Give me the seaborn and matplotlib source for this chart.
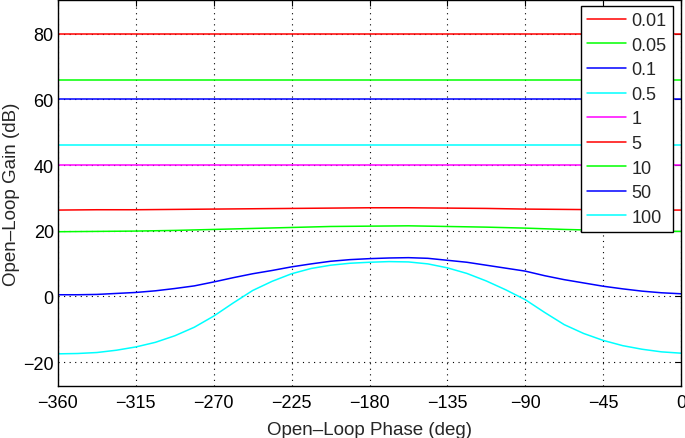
import matplotlib
matplotlib.use("Agg")
import matplotlib.pyplot as plt
import seaborn as sns
import pandas as pd

# ---------------- data ----------------
labels = ["0.01", "0.05", "0.1", "0.5", "1", "5", "10", "50", "100"]
colors = ["#ff0000", "#00ff00", "#0000ff", "#00ffff", "#ff00ff",
          "#ff0000", "#00ff00", "#0000ff", "#00ffff"]

phase_flat = [-360, 0]
gain_001 = [80, 80]
gain_005 = [66, 66]
gain_01 = [60, 60]
gain_05 = [46, 46]
gain_1 = [40, 40]

phase_coarse = [-360, -337.5, -315, -292.5, -270, -247.5, -225, -202.5, -180,
                -157.5, -135, -112.5, -90, -67.5, -45, -22.5, 0]
gain_5 = [26.3, 26.4, 26.4, 26.5, 26.6, 26.7, 26.8, 26.9, 27.0,
          27.0, 26.9, 26.8, 26.6, 26.5, 26.4, 26.3, 26.3]
gain_10 = [19.7, 19.8, 19.9, 20.1, 20.4, 20.7, 21.0, 21.3, 21.4,
           21.5, 21.3, 21.1, 20.8, 20.4, 20.1, 19.9, 19.8]

phase_fine = [-360, -348.75, -337.5, -326.25, -315, -303.75, -292.5, -281.25,
              -270, -258.75, -247.5, -236.25, -225, -213.75, -202.5, -191.25,
              -180, -168.75, -157.5, -146.25, -135, -123.75, -112.5, -101.25,
              -90, -78.75, -67.5, -56.25, -45, -33.75, -22.5, -11.25, 0]
gain_50 = [0.5, 0.5, 0.6, 0.9, 1.2, 1.7, 2.4, 3.2,
           4.4, 5.7, 6.9, 7.9, 9.0, 9.9, 10.7, 11.2,
           11.5, 11.7, 11.8, 11.6, 11.0, 10.4, 9.5, 8.6,
           7.7, 6.3, 5.1, 4.1, 3.1, 2.3, 1.6, 1.1, 0.8]
gain_100 = [-17.5, -17.4, -17.1, -16.4, -15.4, -14.0, -12.0, -9.4,
            -6.0, -2.0, 1.8, 4.6, 6.9, 8.5, 9.5, 10.1,
            10.4, 10.6, 10.5, 9.9, 8.7, 7.0, 4.7, 2.0,
            -1.0, -4.9, -8.6, -11.3, -13.4, -15.0, -16.1, -16.9, -17.3]

x_ticks = [-360, -315, -270, -225, -180, -135, -90, -45, 0]
y_ticks = [-20, 0, 20, 40, 60, 80]

# ---------------- build long table ----------------
series = [
    (phase_flat, gain_001), (phase_flat, gain_005), (phase_flat, gain_01),
    (phase_flat, gain_05), (phase_flat, gain_1), (phase_coarse, gain_5),
    (phase_coarse, gain_10), (phase_fine, gain_50), (phase_fine, gain_100),
]
rows = []
for lab, (ph, g) in zip(labels, series):
    for p, v in zip(ph, g):
        rows.append({"phase": p, "gain": v, "K": lab})
df = pd.DataFrame(rows)

# ---------------- style ----------------
sns.set_style("white")
plt.rcParams["font.family"] = ["Liberation Sans", "DejaVu Sans"]
plt.rcParams["axes.unicode_minus"] = True
plt.rcParams["lines.solid_joinstyle"] = "round"

fig = plt.figure(figsize=(6.85, 4.39), dpi=100)
ax = fig.add_axes([58 / 685, 1 - 387 / 439, 623 / 685, 386 / 439])

sns.lineplot(data=df, x="phase", y="gain", hue="K", hue_order=labels,
             palette=dict(zip(labels, colors)), sort=False, estimator=None,
             linewidth=1.1, ax=ax)

ax.set_xlim(-360, 0)
ax.set_ylim(-27.3, 90.3)
ax.set_xticks(x_ticks)
ax.set_yticks(y_ticks)
ax.grid(True, color="black", linestyle=(0, (1, 4)), linewidth=0.8)
ax.set_axisbelow(True)
for s in ax.spines.values():
    s.set_color("black")
    s.set_linewidth(1.0)
ax.tick_params(direction="in", length=4, width=0.8, colors="black",
               labelsize=13, top=True, right=True)
ax.tick_params(axis="x", pad=6)
ax.tick_params(axis="y", pad=3)
ax.set_xlabel("Open–Loop Phase (deg)", fontsize=13.5, labelpad=7)
ax.set_ylabel("Open–Loop Gain (dB)", fontsize=13.5, labelpad=2)

leg = ax.legend(loc="upper right", bbox_to_anchor=(0.9867, 0.985),
                fontsize=13, frameon=True, fancybox=False, framealpha=1,
                edgecolor="black", handlelength=2.15, handletextpad=0.3,
                labelspacing=0.42, borderpad=0.35, borderaxespad=0)
leg.get_frame().set_linewidth(1.0)
leg.set_title(None)

fig.savefig("out.png", dpi=100)
